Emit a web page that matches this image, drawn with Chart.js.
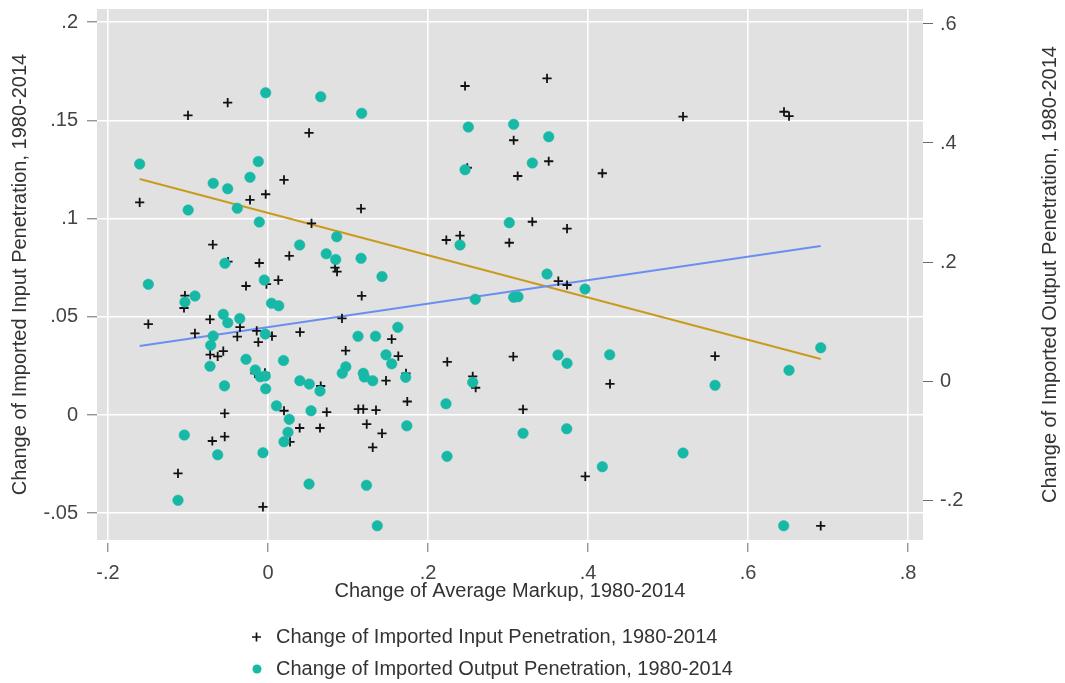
<!DOCTYPE html>
<html>
<head>
<meta charset="utf-8">
<script src="https://cdn.jsdelivr.net/npm/chart.js@4/dist/chart.umd.min.js"></script>
<style>
  html, body { margin: 0; padding: 0; background: #ffffff; }
  #wrap { width: 1065px; height: 683px; }
</style>
</head>
<body>
<div id="wrap"><canvas id="c" width="1065" height="683"></canvas></div>
<script>
// Axis ticks
const xTickValues = [-0.2, 0, 0.2, 0.4, 0.6, 0.8];
const xTickLabels = ['-.2', '0', '.2', '.4', '.6', '.8'];
const inputTickValues = [-0.05, 0, 0.05, 0.1, 0.15, 0.2];
const inputTickLabels = ['-.05', '0', '.05', '.1', '.15', '.2'];
const outputTickValues = [-0.2, 0, 0.2, 0.4, 0.6];
const outputTickLabels = ['-.2', '0', '.2', '.4', '.6'];

// Titles and series names
const xTitle = 'Change of Average Markup, 1980-2014';
const inputName = 'Change of Imported Input Penetration, 1980-2014';
const outputName = 'Change of Imported Output Penetration, 1980-2014';

// Imported input penetration (left axis) against markup change
const inputMarkup = [
  -0.0504, -0.1000, 0.0513, 0.0200, -0.0029, -0.0225, -0.1604, 0.1163, 0.0544, -0.0690,
  0.0266, -0.0109, -0.0500, 0.0838, 0.0863, 0.0129, -0.0275, -0.0019, -0.1038, -0.1050,
  0.1171, -0.1496, -0.0725, -0.0913, -0.0350, -0.0384, -0.0141, -0.0121, 0.0050, 0.0400,
  0.0925, 0.0971, -0.0559, -0.0629, -0.0723, -0.0163, -0.0038, 0.0659, 0.0200, 0.0734,
  0.1129, 0.1191, 0.1234, 0.0396, 0.0650, 0.0275, 0.1309, -0.0541, -0.0541, -0.0696,
  -0.1125, -0.0063, 0.1546, 0.1629, 0.1475, 0.1725, 0.1741, 0.1350, 0.1425, 0.2463,
  0.3488, 0.3071, 0.3509, 0.3121, 0.4179, 0.3304, 0.3738, 0.2229, 0.2400, 0.3016,
  0.3629, 0.2491, 0.3738, 0.2241, 0.3066, 0.2559, 0.2596, 0.4275, 0.3188, 0.3966,
  0.5188, 0.6450, 0.6513, 0.5588, 0.6909
];
const inputPenetration = [
  0.1590, 0.1526, 0.1436, 0.1197, 0.1124, 0.1095, 0.1083, 0.1051, 0.0976, 0.0868,
  0.0810, 0.0774, 0.0781, 0.0751, 0.0730, 0.0687, 0.0657, 0.0667, 0.0608, 0.0545,
  0.0607, 0.0463, 0.0487, 0.0416, 0.0448, 0.0399, 0.0429, 0.0371, 0.0402, 0.0422,
  0.0492, 0.0328, 0.0325, 0.0299, 0.0308, 0.0212, 0.0215, 0.0148, 0.0022, 0.0015,
  0.0030, 0.0030, -0.0046, -0.0066, -0.0066, -0.0136, -0.0165, 0.0009, -0.0110, -0.0132,
  -0.0297, -0.0467, 0.0387, 0.0300, 0.0175, 0.0212, 0.0069, 0.0025, -0.0093, 0.1675,
  0.1714, 0.1399, 0.1292, 0.1217, 0.1231, 0.0984, 0.0949, 0.0891, 0.0913, 0.0877,
  0.0682, 0.1259, 0.0662, 0.0271, 0.0297, 0.0197, 0.0139, 0.0159, 0.0029, -0.0312,
  0.1519, 0.1544, 0.1522, 0.0300, -0.0564
];

// Imported output penetration (right axis) against markup change
const outputMarkup = [
  -0.0029, 0.0659, 0.1171, -0.1604, -0.0121, -0.0225, -0.0685, -0.0504, -0.0998, -0.0384,
  -0.0109, 0.0859, 0.0396, 0.0728, 0.0846, 0.1163, -0.0538, -0.1496, -0.0046, -0.0913,
  -0.1038, 0.0044, 0.0134, -0.0559, -0.0503, -0.0353, -0.0685, -0.0716, -0.0034, 0.1125,
  0.1344, -0.0725, -0.0275, -0.0159, -0.0096, -0.0034, -0.0029, -0.0544, 0.0194, 0.0398,
  0.0516, 0.0650, 0.0106, 0.0266, 0.0538, 0.0250, 0.0200, 0.0973, 0.0928, 0.1191,
  0.1204, 0.1309, -0.1046, -0.0629, -0.0063, 0.0513, 0.1231, -0.1125, 0.1366, 0.1623,
  0.1475, 0.1546, 0.1721, 0.1735, 0.2504, 0.3071, 0.3509, 0.3304, 0.2463, 0.3016,
  0.2400, 0.1425, 0.3488, 0.3963, 0.2591, 0.3071, 0.3125, 0.2225, 0.2559, 0.3625,
  0.3738, 0.4271, 0.3188, 0.3734, 0.2238, 0.4179, 0.6909, 0.6513, 0.5588, 0.5188,
  0.6446
];
const outputPenetration = [
  0.4845, 0.4778, 0.4499, 0.3647, 0.3689, 0.3425, 0.3323, 0.3232, 0.2874, 0.2904,
  0.2672, 0.2425, 0.2286, 0.2139, 0.2042, 0.2062, 0.1978, 0.1625, 0.1697, 0.1429,
  0.1328, 0.1306, 0.1264, 0.1121, 0.0980, 0.1050, 0.0756, 0.0600, 0.0790, 0.0751,
  0.0753, 0.0249, 0.0365, 0.0185, 0.0071, 0.0084, -0.0131, -0.0081, 0.0345, 0.0005,
  -0.0050, -0.0168, -0.0417, -0.0644, -0.0499, -0.0862, -0.1020, 0.0239, 0.0131, 0.0129,
  0.0067, 0.0005, -0.0908, -0.1239, -0.1205, -0.1731, -0.1753, -0.2005, -0.2432, 0.0903,
  0.0440, 0.0289, 0.0062, -0.0753, 0.4269, 0.4314, 0.4106, 0.3664, 0.3551, 0.2661,
  0.2286, 0.1756, 0.1798, 0.1546, 0.1373, 0.1407, 0.1417, -0.0382, -0.0022, 0.0437,
  0.0297, 0.0442, -0.0879, -0.0802, -0.1266, -0.1440, 0.0560, 0.0180, -0.0072, -0.1210,
  -0.2432
];

// Linear fit end points
const inputFitX = [-0.1604, 0.6909];
const inputFitY = [0.0351, 0.0861];
const outputFitX = [-0.1604, 0.6909];
const outputFitY = [0.3395, 0.0370];

const FONT = "'Liberation Sans', Arial, Helvetica, sans-serif";
const TEXT = '#333333';
const TICK_TEXT = '#444444';
const TICK_MARK = '#6a6a6a';
const PANEL = '#e1e1e1';
const TEAL = '#17b8a6';
const GOLD = '#c99b1c';
const BLUE = '#6a8ff0';

const pts = (xs, ys) => xs.map((x, i) => ({ x: x, y: ys[i] }));
const labelFor = (values, labels) => (v) => {
  const i = values.findIndex(t => Math.abs(t - v) < 1e-9);
  return i < 0 ? '' : labels[i];
};
const fixTicks = (values) => (scale) => { scale.ticks = values.map(v => ({ value: v })); };
const noEdgePadding = (s) => {
  s.paddingTop = 0; s.paddingBottom = 0; s.paddingLeft = 0; s.paddingRight = 0;
};

// Grey panel behind the plot and white page
const panelPlugin = {
  id: 'panel',
  beforeDraw(chart) {
    const { ctx, chartArea: a } = chart;
    ctx.save();
    ctx.fillStyle = '#ffffff';
    ctx.fillRect(0, 0, chart.width, chart.height);
    ctx.fillStyle = PANEL;
    ctx.fillRect(a.left, a.top, a.right - a.left, a.bottom - a.top);
    ctx.restore();
  }
};

// Right axis title (reads bottom-to-top) and the stacked legend
const extrasPlugin = {
  id: 'extras',
  afterDraw(chart) {
    const { ctx, chartArea: a } = chart;
    ctx.save();
    ctx.font = '20px ' + FONT;
    ctx.fillStyle = TEXT;
    ctx.textBaseline = 'middle';

    ctx.save();
    ctx.translate(1050, (a.top + a.bottom) / 2);
    ctx.rotate(-Math.PI / 2);
    ctx.textAlign = 'center';
    ctx.fillText(outputName, 0, 0);
    ctx.restore();

    ctx.textAlign = 'left';
    // cross marker
    ctx.strokeStyle = '#111111';
    ctx.lineWidth = 1.7;
    ctx.beginPath();
    ctx.moveTo(252, 637); ctx.lineTo(261, 637);
    ctx.moveTo(256.5, 632.5); ctx.lineTo(256.5, 641.5);
    ctx.stroke();
    ctx.fillText(inputName, 276, 637);
    // circle marker
    ctx.fillStyle = TEAL;
    ctx.beginPath();
    ctx.arc(257, 669, 4.5, 0, Math.PI * 2);
    ctx.fill();
    ctx.fillStyle = TEXT;
    ctx.fillText(outputName, 276, 669);
    ctx.restore();
  }
};

new Chart(document.getElementById('c'), {
  type: 'scatter',
  data: {
    datasets: [
      {
        label: outputName,
        data: pts(outputMarkup, outputPenetration),
        yAxisID: 'yOut',
        pointStyle: 'circle',
        pointRadius: 5.3,
        pointHoverRadius: 5.3,
        backgroundColor: TEAL,
        borderColor: TEAL,
        borderWidth: 0.5,
        order: 1
      },
      {
        label: inputName,
        data: pts(inputMarkup, inputPenetration),
        yAxisID: 'yIn',
        pointStyle: 'cross',
        pointRadius: 4.6,
        pointHoverRadius: 4.6,
        borderColor: '#111111',
        borderWidth: 1.8,
        order: 2
      },
      {
        label: 'fit in',
        data: pts(inputFitX, inputFitY),
        yAxisID: 'yIn',
        showLine: true,
        pointRadius: 0,
        borderColor: BLUE,
        borderWidth: 2,
        order: 3
      },
      {
        label: 'fit out',
        data: pts(outputFitX, outputFitY),
        yAxisID: 'yOut',
        showLine: true,
        pointRadius: 0,
        borderColor: GOLD,
        borderWidth: 2,
        order: 4
      }
    ]
  },
  options: {
    responsive: false,
    animation: false,
    events: [],
    layout: { padding: { left: 0, right: 0, top: 9, bottom: 80 } },
    plugins: {
      legend: { display: false },
      tooltip: { enabled: false }
    },
    scales: {
      x: {
        type: 'linear',
        position: 'bottom',
        min: -0.21375,
        max: 0.81875,
        afterBuildTicks: fixTicks(xTickValues),
        afterFit: (s) => { s.height = 63; noEdgePadding(s); },
        border: { display: false },
        grid: {
          color: '#ffffff',
          lineWidth: 1.6,
          tickColor: TICK_MARK,
          tickLength: 12,
          tickWidth: 1,
          tickBorderDash: [0, 3, 9, 50]
        },
        ticks: {
          callback: labelFor(xTickValues, xTickLabels),
          color: TICK_TEXT,
          font: { family: FONT, size: 20 },
          padding: 9,
          maxRotation: 0,
          autoSkip: false
        },
        title: {
          display: true,
          text: xTitle,
          color: TEXT,
          font: { family: FONT, size: 20 },
          padding: { top: 0, bottom: 0 }
        }
      },
      yIn: {
        type: 'linear',
        position: 'left',
        min: -0.0636,
        max: 0.2067,
        afterBuildTicks: fixTicks(inputTickValues),
        afterFit: (s) => { s.width = 97; noEdgePadding(s); },
        border: { display: false },
        grid: {
          color: '#ffffff',
          lineWidth: 1.6,
          tickColor: TICK_MARK,
          tickLength: 14,
          tickWidth: 1,
          tickBorderDash: [0, 4, 10, 50]
        },
        ticks: {
          callback: labelFor(inputTickValues, inputTickLabels),
          color: TICK_TEXT,
          font: { family: FONT, size: 20 },
          padding: 5,
          autoSkip: false
        },
        title: {
          display: true,
          text: inputName,
          color: TEXT,
          font: { family: FONT, size: 20 },
          padding: { top: 8, bottom: 0 }
        }
      },
      yOut: {
        type: 'linear',
        position: 'right',
        min: -0.2672,
        max: 0.6252,
        afterBuildTicks: fixTicks(outputTickValues),
        afterFit: (s) => { s.width = 142; noEdgePadding(s); },
        border: { display: false },
        grid: {
          drawOnChartArea: false,
          color: TICK_MARK,
          tickColor: TICK_MARK,
          tickLength: 10,
          tickWidth: 1
        },
        ticks: {
          callback: labelFor(outputTickValues, outputTickLabels),
          color: TICK_TEXT,
          font: { family: FONT, size: 20 },
          padding: 7,
          autoSkip: false
        }
      }
    }
  },
  plugins: [panelPlugin, extrasPlugin]
});
</script>
</body>
</html>
